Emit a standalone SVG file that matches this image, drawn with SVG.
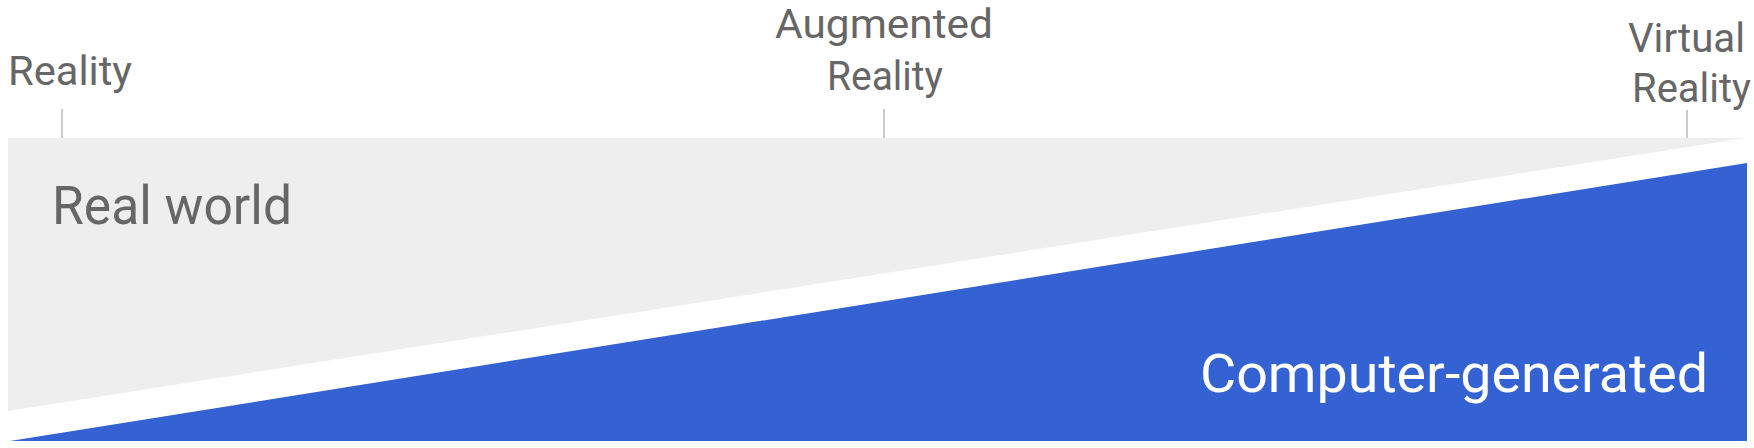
<svg xmlns="http://www.w3.org/2000/svg" width="1754" height="448" viewBox="0 0 1754 448">
<style>
.lbl{font-family:Roboto,"Liberation Sans",sans-serif;fill:#666666;font-size:41px}
.big{font-family:Roboto,"Liberation Sans",sans-serif;font-size:53px}
.tick{stroke:#cccccc;stroke-width:2}
</style>
<rect width="1754" height="448" fill="#ffffff"/>
<g id="real-world">
<polygon points="8,138 1745,138 8,411" fill="#eeeeee"/>
<text class="big" x="52" y="224" fill="#666666" textLength="240" lengthAdjust="spacingAndGlyphs">Real world</text>
</g>
<g id="computer-generated">
<polygon points="10,441 1747,163 1747,441" fill="#3462d3"/>
<text class="big" x="1200" y="392" fill="#ffffff" textLength="508" lengthAdjust="spacingAndGlyphs">Computer-generated</text>
</g>
<g id="reality">
<text class="lbl" x="8" y="85" textLength="124" lengthAdjust="spacingAndGlyphs">Reality</text>
</g>
<g id="augmented-reality">
<text class="lbl" x="775" y="38" textLength="218" lengthAdjust="spacingAndGlyphs">Augmented</text>
<text class="lbl" x="827" y="90" textLength="116" lengthAdjust="spacingAndGlyphs">Reality</text>
</g>
<g id="virtual-reality">
<text class="lbl" x="1628" y="52" textLength="117" lengthAdjust="spacingAndGlyphs">Virtual</text>
<text class="lbl" x="1632" y="102" textLength="119" lengthAdjust="spacingAndGlyphs">Reality</text>
</g>
<g id="connectors">
<line class="tick" x1="62" y1="109" x2="62" y2="138"/>
<line class="tick" x1="884" y1="109" x2="884" y2="138"/>
<line class="tick" x1="1687" y1="110" x2="1687" y2="138"/>
</g>
</svg>
